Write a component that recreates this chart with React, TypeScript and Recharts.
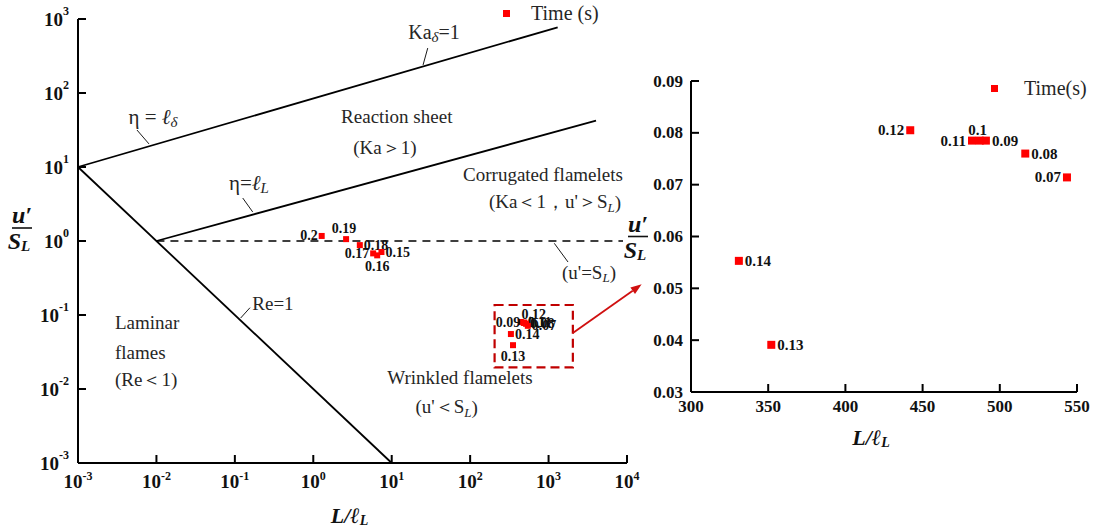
import React from 'react';
import {
  ScatterChart,
  Scatter,
  XAxis,
  YAxis,
  ReferenceLine,
  ReferenceArea,
  ReferenceDot,
  Legend,
} from 'recharts';

// sampled instants (s) with their length-scale and velocity ratios
const times = [0.2, 0.19, 0.18, 0.17, 0.16, 0.15, 0.14, 0.13, 0.12, 0.11, 0.1, 0.09, 0.08, 0.07];
const lengthRatio = [1.28, 2.62, 3.92, 5.8, 6.53, 7.4, 331, 352, 442, 482, 487, 491, 516.5, 543.5];
const velocityRatio = [1.17, 1.06, 0.88, 0.68, 0.64, 0.71, 0.0553, 0.0391, 0.0805, 0.0785, 0.0785, 0.0785, 0.076, 0.0714];

const logTicksX = [1e-3, 1e-2, 1e-1, 1, 10, 100, 1000, 10000];
const logTicksY = [1e-3, 1e-2, 1e-1, 1, 10, 100, 1000];
const zoomTicksX = [300, 350, 400, 450, 500, 550];
const zoomTicksY = [0.03, 0.04, 0.05, 0.06, 0.07, 0.08, 0.09];

// regime boundaries of the Borghi diagram
const etaDelta = [{ x: 1e-3, y: 10 }, { x: 1306, y: 773 }];
const etaL = [{ x: 1e-2, y: 1 }, { x: 4027, y: 42.3 }];
const reOne = [{ x: 1e-3, y: 10 }, { x: 10, y: 1e-3 }];
const uEqualsSL = [{ x: 1e-2, y: 1 }, { x: 8900, y: 1 }];

// zoomed window and the arrow pointing at the enlarged view
const zoomBox = { x1: 205, x2: 2040, y1: 0.0196, y2: 0.1365 };
const zoomArrow = [{ x: 2040, y: 0.0571 }, { x: 15380, y: 0.26 }];

const points = times.map((t, i) => ({ t, x: lengthRatio[i], y: velocityRatio[i] }));
const zoomPoints = points.filter((p) => p.x >= 300 && p.x <= 550);

const SERIF = "'Times New Roman', 'Liberation Serif', serif";
const RED = '#FF0000';
const INK = '#262626';

type Side = 'l' | 'r' | 't' | 'b' | 'tr';

// where each time label sits relative to its marker
const mainLabelSide: Record<string, Side> = {
  '0.2': 'l', '0.19': 't', '0.18': 'r', '0.17': 'l', '0.16': 'b', '0.15': 'r',
  '0.14': 'r', '0.13': 'b', '0.12': 'tr', '0.11': 'r', '0.1': 'r', '0.09': 'l', '0.08': 'r', '0.07': 'r',
};
const zoomLabelSide: Record<string, Side> = {
  '0.14': 'r', '0.13': 'r', '0.12': 'l', '0.11': 'l', '0.1': 't', '0.09': 'r', '0.08': 'r', '0.07': 'l',
};

const makeMarker = (side: number, sides: Record<string, Side>, off: number, fontSize: number) =>
  (props: any) => {
    const { cx, cy, payload } = props;
    const where = sides[String(payload.t)] || 'r';
    let tx = cx + off;
    let ty = cy;
    let anchor: 'start' | 'middle' | 'end' = 'start';
    if (where === 'l') { tx = cx - off; anchor = 'end'; }
    if (where === 't') { tx = cx - 2; ty = cy - 11; anchor = 'middle'; }
    if (where === 'b') { tx = cx; ty = cy + 11; anchor = 'middle'; }
    if (where === 'tr') { tx = cx + 13; ty = cy - 7; anchor = 'middle'; }
    return (
      <g>
        <rect x={cx - side / 2} y={cy - side / 2} width={side} height={side} fill={RED} />
        <text x={tx} y={ty} textAnchor={anchor} dominantBaseline="central"
          fontFamily={SERIF} fontWeight="bold" fontSize={fontSize} fill="#111">
          {payload.t}
        </text>
      </g>
    );
  };

const PowTickY = ({ x, y, payload }: any) => (
  <text x={x} y={y} textAnchor="end" dominantBaseline="central"
    fontFamily={SERIF} fontWeight="bold" fontSize={19} fill="#111">
    10<tspan dy={-8} fontSize={12}>{Math.round(Math.log10(payload.value))}</tspan>
  </text>
);

const PowTickX = ({ x, y, payload }: any) => (
  <text x={x} y={y} dy="0.72em" textAnchor="middle"
    fontFamily={SERIF} fontWeight="bold" fontSize={19} fill="#111">
    10<tspan dy={-8} fontSize={12}>{Math.round(Math.log10(payload.value))}</tspan>
  </text>
);

const DecTickY = ({ x, y, payload }: any) => (
  <text x={x} y={y} textAnchor="end" dominantBaseline="central"
    fontFamily={SERIF} fontWeight="bold" fontSize={17} fill="#111">
    {payload.value.toFixed(2)}
  </text>
);

const DecTickX = ({ x, y, payload }: any) => (
  <text x={x} y={y} dy="0.72em" textAnchor="middle"
    fontFamily={SERIF} fontWeight="bold" fontSize={17} fill="#111">
    {payload.value}
  </text>
);

// u'/S_L written as a stacked fraction
const VelocityFraction = ({ viewBox, dx, dy }: any) => {
  const cx = viewBox.x + dx;
  const cy = viewBox.y + viewBox.height / 2 + dy;
  return (
    <g fontFamily={SERIF} fontWeight="bold" fontStyle="italic" fill="#111">
      <text x={cx} y={cy - 13} textAnchor="middle" dominantBaseline="central" fontSize={24}>u′</text>
      <line x1={cx - 10} x2={cx + 10} y1={cy} y2={cy} stroke="#111" strokeWidth={1.6} />
      <text x={cx - 3} y={cy + 13} textAnchor="middle" dominantBaseline="central" fontSize={24}>
        S<tspan dy={5} fontSize={15}>L</tspan>
      </text>
    </g>
  );
};

const LengthLabel = ({ viewBox, dx, y }: any) => (
  <text x={viewBox.x + viewBox.width / 2 + dx} y={y} textAnchor="middle" dominantBaseline="central"
    fontFamily={SERIF} fontWeight="bold" fontStyle="italic" fontSize={22} fill="#111">
    L/ℓ<tspan dy={5} fontSize={14}>L</tspan>
  </text>
);

const TimeLegend = ({ payload, gap }: any) => (
  <div style={{ display: 'flex', alignItems: 'center', fontFamily: SERIF, fontSize: 20, color: INK, whiteSpace: 'nowrap' }}>
    <span style={{ display: 'inline-block', width: 7, height: 7, background: RED, marginRight: gap }} />
    {payload && payload[0] ? payload[0].value : ''}
  </div>
);

const Sub = ({ children, italic = true, size = 13 }: any) => (
  <tspan dy={5} fontSize={size} fontStyle={italic ? 'italic' : 'normal'}>{children}</tspan>
);

// region names and line tags on the diagram
const notes: { x: number; y: number; size?: number; anchor?: 'start' | 'middle'; body: React.ReactNode }[] = [
  { x: 0.00904, y: 47.4, size: 21, body: <>η = <tspan fontStyle="italic">ℓ</tspan><Sub size={15}>δ</Sub></> },
  { x: 34.6, y: 667, size: 20, body: <>Ka<Sub size={15}>δ</Sub><tspan dy={-5}>=1</tspan></> },
  { x: 11.6, y: 47.4, body: 'Reaction sheet' },
  { x: 8.2, y: 18.6, body: '(Ka＞1)' },
  { x: 0.151, y: 6.08, size: 21, body: <>η=<tspan fontStyle="italic">ℓ</tspan><Sub size={15}>L</Sub></> },
  { x: 849, y: 8.03, body: 'Corrugated flamelets' },
  { x: 1208, y: 3.37, body: <>(Ka＜1，u'＞S<Sub>L</Sub><tspan dy={-5}>)</tspan></> },
  { x: 3273, y: 0.381, body: <>(u'=S<Sub>L</Sub><tspan dy={-5}>)</tspan></> },
  { x: 0.306, y: 0.145, body: 'Re=1' },
  { x: 0.00296, y: 0.078, anchor: 'start', body: 'Laminar' },
  { x: 0.00296, y: 0.0316, anchor: 'start', body: 'flames' },
  { x: 0.00296, y: 0.01324, anchor: 'start', body: '(Re＜1)' },
  { x: 74.3, y: 0.01452, body: 'Wrinkled flamelets' },
  { x: 50.2, y: 0.00577, body: <>(u'＜S<Sub>L</Sub><tspan dy={-5}>)</tspan></> },
];

const leaders = [
  [{ x: 0.00565, y: 31.6 }, { x: 0.00804, y: 20.5 }],
  [{ x: 28.8, y: 405 }, { x: 25.1, y: 239 }],
  [{ x: 0.126, y: 3.81 }, { x: 0.1688, y: 2.47 }],
  [{ x: 0.156, y: 0.1256 }, { x: 0.1186, y: 0.091 }],
  [{ x: 1183, y: 0.931 }, { x: 1770, y: 0.52 }],
];

const ArrowShape = ({ x1, y1, x2, y2 }: any) => {
  const ang = Math.atan2(y2 - y1, x2 - x1);
  const len = 11;
  const half = 4;
  const bx = x2 - len * Math.cos(ang);
  const by = y2 - len * Math.sin(ang);
  const px = -Math.sin(ang) * half;
  const py = Math.cos(ang) * half;
  return (
    <g>
      <line x1={x1} y1={y1} x2={bx} y2={by} stroke="#D01010" strokeWidth={1.8} />
      <polygon points={`${x2},${y2} ${bx + px},${by + py} ${bx - px},${by - py}`} fill="#D01010" />
    </g>
  );
};

const axisStroke = { stroke: '#000', strokeWidth: 2 };

export default function App() {
  return (
    <div style={{ position: 'absolute', left: 0, top: 0, width: 1097, height: 529, background: '#fff' }}>
      <div style={{ position: 'absolute', left: 0, top: 0 }}>
        <ScatterChart width={660} height={529} margin={{ top: 19, right: 33, bottom: 26, left: 18 }}>
          <XAxis type="number" dataKey="x" scale="log" domain={[1e-3, 1e4]} ticks={logTicksX} interval={0}
            allowDataOverflow height={40} axisLine={axisStroke} tickLine={axisStroke}
            tickSize={-8} tickMargin={19} tick={<PowTickX />}
            label={{ content: (p: any) => <LengthLabel viewBox={p.viewBox} dx={-3} y={515} /> }} />
          <YAxis type="number" dataKey="y" scale="log" domain={[1e-3, 1e3]} ticks={logTicksY} interval={0}
            allowDataOverflow width={60} axisLine={axisStroke} tickLine={axisStroke}
            tickSize={-8} tickMargin={17} tick={<PowTickY />}
            label={{ content: (p: any) => <VelocityFraction viewBox={p.viewBox} dx={4} dy={-13} /> }} />
          <ReferenceLine segment={etaDelta} stroke="#000" strokeWidth={1.8} />
          <ReferenceLine segment={etaL} stroke="#000" strokeWidth={1.8} />
          <ReferenceLine segment={reOne} stroke="#000" strokeWidth={1.8} />
          <ReferenceLine segment={uEqualsSL} stroke="#000" strokeWidth={1.6} strokeDasharray="8 6" />
          {leaders.map((seg, i) => (
            <ReferenceLine key={`lead-${i}`} segment={seg} stroke="#000" strokeWidth={0.9} />
          ))}
          {notes.map((n, i) => (
            <ReferenceDot key={`note-${i}`} x={n.x} y={n.y} r={0} fill="none" stroke="none"
              label={(p: any) => (
                <text x={p.viewBox.x} y={p.viewBox.y} textAnchor={n.anchor || 'middle'} dominantBaseline="central"
                  fontFamily={SERIF} fontSize={n.size || 19} fill={INK}>
                  {n.body}
                </text>
              )} />
          ))}
          <ReferenceArea x1={zoomBox.x1} x2={zoomBox.x2} y1={zoomBox.y1} y2={zoomBox.y2}
            fill="none" fillOpacity={0} stroke="#C00000" strokeWidth={2.2} strokeDasharray="9 5" />
          <ReferenceLine segment={zoomArrow} ifOverflow="visible" shape={ArrowShape} />
          <Scatter name="Time (s)" data={points} fill={RED} isAnimationActive={false}
            shape={makeMarker(6, mainLabelSide, 4, 14)} />
          <Legend layout="horizontal" verticalAlign="middle" align="center"
            wrapperStyle={{ top: 2, left: 503, width: 'auto' }}
            content={(p: any) => <TimeLegend payload={p.payload} gap={21} />} />
        </ScatterChart>
      </div>
      <div style={{ position: 'absolute', left: 600, top: 0 }}>
        <ScatterChart width={497} height={529} margin={{ top: 81, right: 20, bottom: 97, left: 31 }}>
          <XAxis type="number" dataKey="x" domain={[300, 550]} ticks={zoomTicksX} interval={0}
            allowDataOverflow height={40} axisLine={axisStroke} tickLine={axisStroke}
            tickSize={-8} tickMargin={16} tick={<DecTickX />}
            label={{ content: (p: any) => <LengthLabel viewBox={p.viewBox} dx={-13} y={437} /> }} />
          <YAxis type="number" dataKey="y" domain={[0.03, 0.09]} ticks={zoomTicksY} interval={0}
            allowDataOverflow width={60} axisLine={axisStroke} tickLine={axisStroke}
            tickSize={-8} tickMargin={16} tick={<DecTickY />}
            label={{ content: (p: any) => <VelocityFraction viewBox={p.viewBox} dx={7} dy={0} /> }} />
          <Scatter name="Time(s)" data={zoomPoints} fill={RED} isAnimationActive={false}
            shape={makeMarker(8, zoomLabelSide, 6, 15)} />
          <Legend layout="horizontal" verticalAlign="middle" align="center"
            wrapperStyle={{ top: 77, left: 391, width: 'auto' }}
            content={(p: any) => <TimeLegend payload={p.payload} gap={26} />} />
        </ScatterChart>
      </div>
    </div>
  );
}
